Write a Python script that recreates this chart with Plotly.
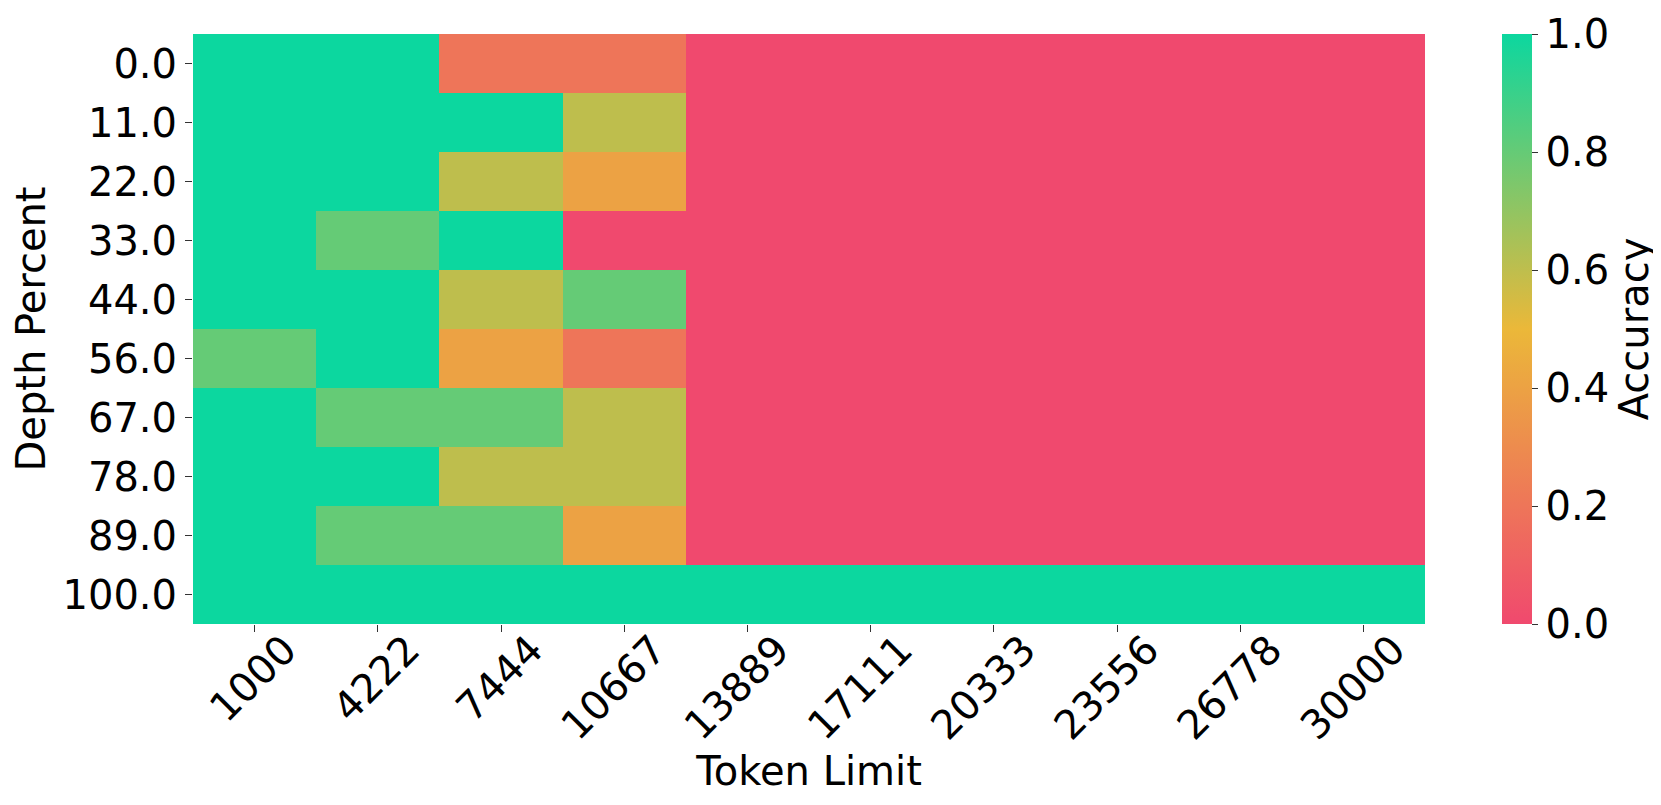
import plotly.graph_objects as go

token_limits = ["1000", "4222", "7444", "10667", "13889", "17111", "20333", "23556", "26778", "30000"]
depth_percents = ["0.0", "11.0", "22.0", "33.0", "44.0", "56.0", "67.0", "78.0", "89.0", "100.0"]

row_0 = [1.0, 1.0, 0.2, 0.2, 0, 0, 0, 0, 0, 0]
row_11 = [1.0, 1.0, 1.0, 0.6, 0, 0, 0, 0, 0, 0]
row_22 = [1.0, 1.0, 0.6, 0.4, 0, 0, 0, 0, 0, 0]
row_33 = [1.0, 0.8, 1.0, 0.0, 0, 0, 0, 0, 0, 0]
row_44 = [1.0, 1.0, 0.6, 0.8, 0, 0, 0, 0, 0, 0]
row_56 = [0.8, 1.0, 0.4, 0.2, 0, 0, 0, 0, 0, 0]
row_67 = [1.0, 0.8, 0.8, 0.6, 0, 0, 0, 0, 0, 0]
row_78 = [1.0, 1.0, 0.6, 0.6, 0, 0, 0, 0, 0, 0]
row_89 = [1.0, 0.8, 0.8, 0.4, 0, 0, 0, 0, 0, 0]
row_100 = [1.0, 1.0, 1.0, 1.0, 1.0, 1.0, 1.0, 1.0, 1.0, 1.0]

z = [row_0, row_11, row_22, row_33, row_44, row_56, row_67, row_78, row_89, row_100]

colorscale = [[0.0, "#F0496E"], [0.5, "#EBB839"], [1.0, "#0CD79F"]]

FONT = "DejaVu Sans"
FS = 40

fig = go.Figure(go.Heatmap(
    z=z, x=token_limits, y=depth_percents,
    colorscale=colorscale, zmin=0, zmax=1,
    colorbar=dict(
        title=dict(text="Accuracy", side="right", font=dict(size=FS, family=FONT, color="black")),
        thickness=30, len=1.0, lenmode="fraction", y=0.5, yanchor="middle",
        x=1.0623, xanchor="left", xpad=0, ypad=0, outlinewidth=0,
        tickvals=[0, 0.2, 0.4, 0.6, 0.8, 1.0], ticktext=["0.0", "0.2", "0.4", "0.6", "0.8", "1.0"],
        ticks="outside", ticklen=6, tickcolor="#333",
        tickfont=dict(size=FS, family=FONT, color="black"),
    ),
))

fig.update_layout(
    width=1661, height=805,
    margin=dict(l=185, r=241, t=26, b=189),
    paper_bgcolor="white", plot_bgcolor="white",
    font=dict(family=FONT, color="black"),
    xaxis=dict(
        title=dict(text="Token Limit", font=dict(size=FS, family=FONT), standoff=6),
        automargin=False,
        tickangle=-45, ticks="outside", ticklen=7, tickcolor="#333",
        ticklabelshift=30, ticklabelstandoff=-22,
        tickfont=dict(size=FS, family=FONT), showgrid=False, zeroline=False,
    ),
    yaxis=dict(
        title=dict(text="Depth Percent", font=dict(size=FS, family=FONT), standoff=16),
        automargin=False,
        autorange="reversed", ticks="outside", ticklen=7, tickcolor="#333",
        tickfont=dict(size=FS, family=FONT), showgrid=False, zeroline=False,
    ),
)

fig.write_html("out.html")
